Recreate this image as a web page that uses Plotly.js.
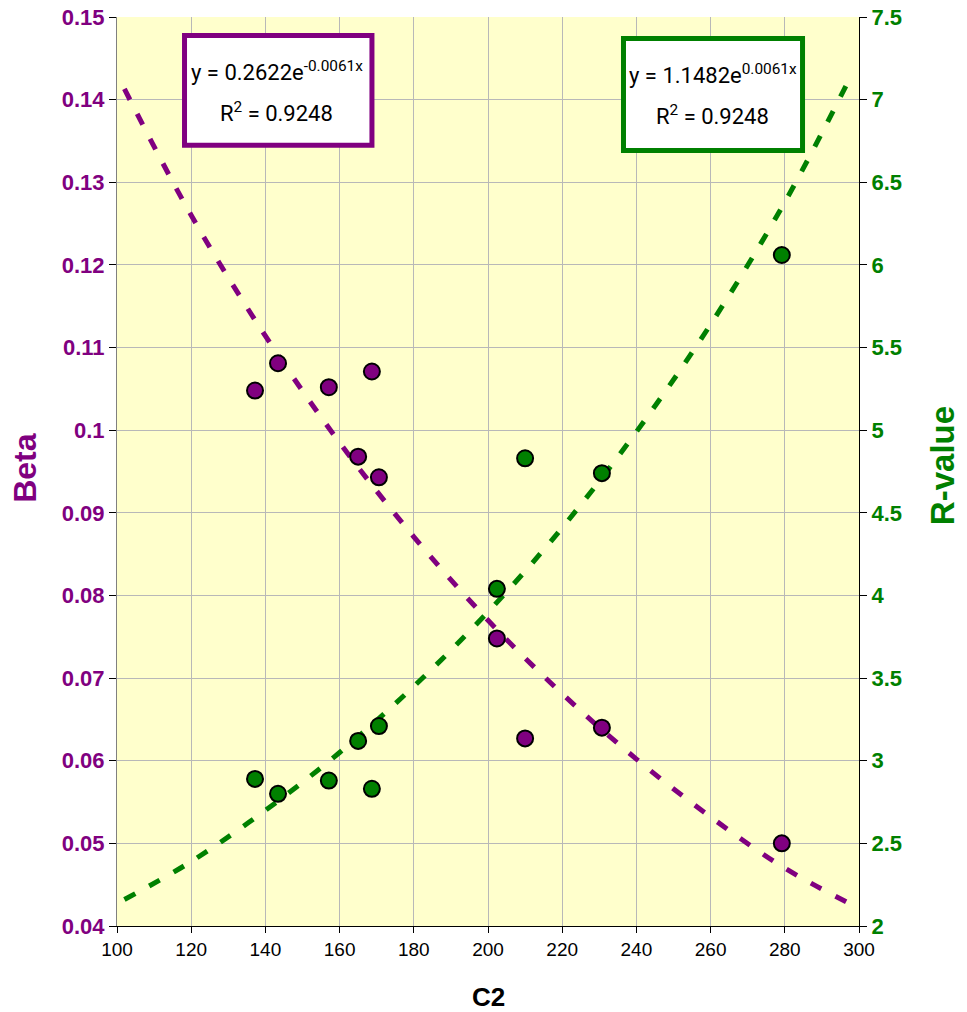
<!DOCTYPE html>
<html>
<head>
<meta charset="utf-8">
<script src="https://cdn.plot.ly/plotly-3.0.1.min.js"></script>
<style>html,body{margin:0;padding:0;background:#fff;}#chart{width:967px;height:1012px;}</style>
</head>
<body>
<div id="chart"></div>
<script>
// Data
var c2 = [137.2, 143.4, 157.1, 165.0, 168.7, 170.6, 202.4, 210.0, 230.7, 279.2];
var beta = [0.1048, 0.1081, 0.1052, 0.0968, 0.1071, 0.0943, 0.0748, 0.0627, 0.0640, 0.0500];
var rValue = [2.89, 2.80, 2.88, 3.12, 2.83, 3.21, 4.04, 4.83, 4.74, 6.06];

// Trend lines, values
var trendX = [102, 120, 140, 160, 180, 200, 220, 240, 260, 280, 298];
var betaTrend = [0.1413, 0.1260, 0.1114, 0.0985, 0.0871, 0.0770, 0.0681, 0.0602, 0.0532, 0.0470, 0.0426];
var rTrend = [2.16, 2.39, 2.70, 3.05, 3.45, 3.90, 4.41, 4.99, 5.64, 6.38, 7.15];

// Trend-line label texts
var betaEqLine1 = "y = 0.2622e<sup>-0.0061x</sup>";
var rEqLine1 = "y = 1.1482e<sup>0.0061x</sup>";
var r2Line = "R<sup>2</sup> = 0.9248";

var purple = "#800080";
var green = "#008000";

var traces = [
  {x: trendX, y: betaTrend, mode: "lines", line: {color: purple, width: 5, dash: "12px,16px", shape: "spline"}, yaxis: "y", hoverinfo: "skip"},
  {x: trendX, y: rTrend, mode: "lines", line: {color: green, width: 5, dash: "12px,16px", shape: "spline"}, yaxis: "y2", hoverinfo: "skip"},
  {x: c2, y: beta, mode: "markers", marker: {color: purple, size: 16, line: {color: "#000", width: 2}}, yaxis: "y"},
  {x: c2, y: rValue, mode: "markers", marker: {color: green, size: 16, line: {color: "#000", width: 2}}, yaxis: "y2"}
];

var fontFam = "Liberation Sans, Arial, sans-serif";
var eqFont = {family: "Roboto, sans-serif", size: 22, color: "#000"};
function eqText(t, x, y) {
  return {text: t, xref: "paper", yref: "paper", x: x, y: y, xanchor: "center", yanchor: "middle",
          showarrow: false, font: eqFont};
}
var layout = {
  width: 967, height: 1012,
  margin: {l: 117, r: 108, t: 17, b: 86},
  paper_bgcolor: "#ffffff",
  plot_bgcolor: "#ffffcc",
  showlegend: false,
  xaxis: {
    range: [100, 300], dtick: 20, tick0: 100,
    showgrid: true, gridcolor: "#b8b8b8", gridwidth: 1,
    showline: true, linecolor: "#000", linewidth: 1,
    ticks: "outside", ticklen: 6, tickcolor: "#000",
    tickfont: {family: fontFam, size: 19, color: "#000"},
    zeroline: false, mirror: false
  },
  yaxis: {
    range: [0.04, 0.15], dtick: 0.01, tick0: 0.04,
    showgrid: true, gridcolor: "#b8b8b8", gridwidth: 1,
    showline: true, linecolor: "#808080", linewidth: 1,
    ticks: "outside", ticklen: 7, tickcolor: "#000",
    tickfont: {family: fontFam, size: 22, color: purple, weight: 700},
    zeroline: false
  },
  yaxis2: {
    overlaying: "y", side: "right",
    range: [2, 7.5], dtick: 0.5, tick0: 2,
    showgrid: false,
    showline: true, linecolor: "#000", linewidth: 1,
    ticks: "outside", ticklen: 7, tickcolor: "#000",
    tickfont: {family: fontFam, size: 22, color: green, weight: 700},
    zeroline: false
  },
  shapes: [
    {type: "rect", xref: "paper", yref: "paper", x0: 0.091, x1: 0.3436, y0: 0.859, y1: 0.9796,
     fillcolor: "#ffffff", line: {color: purple, width: 5}, layer: "above"},
    {type: "rect", xref: "paper", yref: "paper", x0: 0.6826, x1: 0.9239, y0: 0.8531, y1: 0.9763,
     fillcolor: "#ffffff", line: {color: green, width: 5}, layer: "above"}
  ],
  annotations: [
    {text: "<b>Beta</b>", xref: "paper", yref: "paper", x: -0.124, y: 0.504, xanchor: "center", yanchor: "middle",
     showarrow: false, textangle: -90, font: {family: fontFam, size: 32, color: purple}},
    {text: "<b>R-value</b>", xref: "paper", yref: "paper", x: 1.112, y: 0.506, xanchor: "center", yanchor: "middle",
     showarrow: false, textangle: -90, font: {family: fontFam, size: 33, color: green}},
    {text: "<b>C2</b>", xref: "paper", yref: "paper", x: 0.50, y: -0.0781, xanchor: "center", yanchor: "middle",
     showarrow: false, font: {family: fontFam, size: 26, color: "#000"}},
    eqText(betaEqLine1, 0.2156, 0.9405),
    eqText(r2Line, 0.2156, 0.8955),
    eqText(rEqLine1, 0.8032, 0.937),
    eqText(r2Line, 0.8032, 0.8925)
  ]
};

Plotly.newPlot("chart", traces, layout, {displayModeBar: false, staticPlot: true});
</script>
</body>
</html>
